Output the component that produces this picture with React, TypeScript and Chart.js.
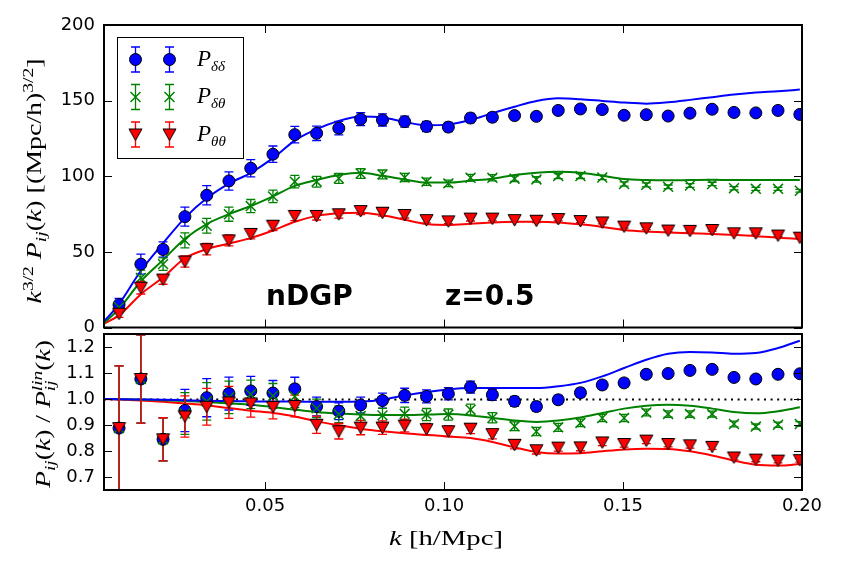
import { useEffect, useRef } from 'react';
import { Chart, registerables } from 'chart.js';

Chart.register(...registerables);

// Wavenumber bin centres [h/Mpc]
const kBins = [
  0.0092, 0.0153, 0.0215, 0.0276, 0.0337, 0.0399, 0.046, 0.0522, 0.0583, 0.0644, 0.0706,
  0.0767, 0.0828, 0.089, 0.0951, 0.1012, 0.1074, 0.1135, 0.1197, 0.1258, 0.1319, 0.1381,
  0.1442, 0.1503, 0.1565, 0.1626, 0.1687, 0.1749, 0.181, 0.1871, 0.1933, 0.1994,
];
// Theory curves also start at the left edge of the range
const kTheory = [0.005, ...kBins];

// k^{3/2} P(k) measurements
const pddData = [15.1, 41.9, 51.6, 73.3, 87.4, 96.9, 105.3, 114.6, 127.5, 128.4, 131.8, 137.7, 137.2, 136.1, 132.9, 132.5, 138.5, 139.0, 140.1, 139.6, 143.5, 144.5, 144.1, 140.3, 140.7, 139.8, 141.7, 144.3, 142.2, 141.9, 143.5, 140.9];
const pdtData = [13.4, 32.8, 41.9, 57.6, 67.3, 74.9, 80.3, 86.7, 96.4, 96.4, 98.6, 101.8, 101.2, 99.2, 96.4, 95.3, 99.0, 99.0, 98.4, 97.9, 100.1, 100.1, 99.2, 94.9, 94.3, 93.0, 93.9, 94.9, 92.1, 91.7, 91.7, 90.4];
const pttData = [9.1, 26.3, 31.7, 43.6, 51.8, 57.6, 61.9, 67.3, 73.8, 73.8, 74.9, 77.0, 75.9, 74.4, 71.0, 70.2, 72.0, 72.0, 71.0, 70.6, 71.7, 70.4, 69.5, 66.7, 65.6, 64.1, 63.9, 64.5, 62.3, 62.3, 60.8, 59.4];

// k^{3/2} P(k) model predictions (on kTheory)
const pddModel = [4, 15.5, 37.5, 55.7, 72.5, 85.4, 95.1, 102.3, 112, 123.6, 131.1, 136.6, 139.5, 138.8, 135.9, 133.7, 134.3, 137.2, 141.7, 146, 149.8, 151.5, 150.9, 149.8, 148.7, 148, 148.9, 150.5, 152.3, 154, 155.3, 156.2, 157.3];
const pdtModel = [3, 12.3, 30.6, 44.7, 58.7, 68.4, 74.9, 80.3, 86.7, 93.6, 97.5, 100.8, 102.3, 100.3, 97.9, 95.8, 95.8, 97.1, 98.4, 100.8, 102.3, 102.9, 102.3, 100.3, 98.2, 97.5, 97.3, 97.5, 97.7, 97.5, 97.5, 97.5, 97.5];
const pttModel = [2.6, 8, 22, 33.2, 45.8, 51.8, 55.5, 59.1, 64.1, 69.9, 73.8, 75.5, 75.9, 74.2, 71.2, 68.4, 67.8, 68.6, 69.5, 69.9, 69.9, 69.5, 68.2, 66.5, 64.5, 63.4, 62.8, 62.3, 61.9, 61.3, 60.4, 59.4, 58.7];

// P(k) / P_lin(k) measurements
const pddRatio = [0.888, 1.077, 0.845, 0.956, 1.005, 1.021, 1.031, 1.023, 1.039, 0.971, 0.953, 0.977, 0.994, 1.014, 1.010, 1.020, 1.046, 1.016, 0.991, 0.971, 0.997, 1.024, 1.054, 1.062, 1.095, 1.098, 1.110, 1.114, 1.083, 1.077, 1.095, 1.097];
const pdtRatio = [0.888, 1.077, 0.845, 0.944, 0.991, 1.006, 1.018, 1.012, 1.010, 0.964, 0.941, 0.935, 0.937, 0.943, 0.940, 0.940, 0.959, 0.928, 0.895, 0.875, 0.891, 0.908, 0.927, 0.927, 0.948, 0.942, 0.942, 0.942, 0.904, 0.894, 0.901, 0.904];
const pttRatio = [0.888, 1.077, 0.845, 0.933, 0.970, 0.987, 0.983, 0.969, 0.973, 0.901, 0.876, 0.890, 0.890, 0.898, 0.884, 0.876, 0.886, 0.865, 0.824, 0.803, 0.813, 0.814, 0.833, 0.827, 0.840, 0.827, 0.822, 0.816, 0.775, 0.767, 0.763, 0.765];

// P(k) / P_lin(k) model predictions (on kTheory)
const pddRatioModel = [1.0, 0.999, 0.998, 0.997, 0.995, 0.993, 0.992, 0.991, 0.99, 0.99, 0.989, 0.989, 0.99, 0.997, 1.014, 1.027, 1.037, 1.042, 1.042, 1.042, 1.042, 1.049, 1.062, 1.087, 1.119, 1.151, 1.174, 1.181, 1.179, 1.174, 1.177, 1.196, 1.224];
const pdtRatioModel = [1.0, 0.999, 0.998, 0.995, 0.992, 0.988, 0.983, 0.978, 0.969, 0.959, 0.95, 0.944, 0.94, 0.938, 0.938, 0.94, 0.942, 0.937, 0.927, 0.917, 0.912, 0.917, 0.929, 0.946, 0.963, 0.974, 0.978, 0.974, 0.963, 0.95, 0.945, 0.953, 0.968];
const pttRatioModel = [1.0, 0.998, 0.994, 0.989, 0.983, 0.976, 0.965, 0.955, 0.946, 0.933, 0.914, 0.899, 0.886, 0.876, 0.868, 0.862, 0.856, 0.85, 0.835, 0.814, 0.796, 0.79, 0.791, 0.799, 0.806, 0.809, 0.808, 0.799, 0.783, 0.763, 0.747, 0.744, 0.75];

// fractional 1-sigma errors per bin
const relErr = [0.27, 0.158, 0.098, 0.085, 0.073, 0.062, 0.054, 0.047, 0.043, 0.037, 0.034, 0.031, 0.029, 0.027, 0.025, 0.023, 0.022, 0.021, 0.019, 0.018, 0.017, 0.016, 0.015, 0.015, 0.014, 0.013, 0.013, 0.012, 0.012, 0.011, 0.011, 0.01];

const xTicks = [0.05, 0.1, 0.15, 0.2];
const yTopTicks = [0, 50, 100, 150, 200];
const yBotTicks = [0.7, 0.8, 0.9, 1.0, 1.1, 1.2];
const unity = 1.0;

const BLUE = '#0000ff';
const GREEN = '#008000';
const RED = '#ff0000';

const X_MIN = 0.005;
const X_MAX = 0.2;
const BOT_OFFSET = 320;
const SERIF = '"Liberation Serif", "Times New Roman", serif';
const SANS = '"DejaVu Sans", sans-serif';

type Seg = { t: string; it?: boolean; sz?: number; dy?: number; stack?: boolean };

function segFont(s: Seg, base: number) {
  return `${s.it ? 'italic ' : ''}${s.sz ?? base}px ${SERIF}`;
}

function layoutRich(ctx: CanvasRenderingContext2D, segs: Seg[], base: number) {
  const items: { s: Seg; x: number }[] = [];
  let x = 0;
  let stackW = -1;
  for (const s of segs) {
    ctx.font = segFont(s, base);
    const w = ctx.measureText(s.t).width;
    items.push({ s, x });
    if (s.stack) {
      stackW = w;
      continue;
    }
    x += stackW >= 0 ? Math.max(stackW, w) : w;
    stackW = -1;
  }
  return { items, width: x };
}

function drawRich(
  ctx: CanvasRenderingContext2D,
  segs: Seg[],
  base: number,
  px: number,
  py: number,
  opts: { rotate?: boolean; target?: number; align?: 'left' | 'center' } = {}
) {
  ctx.save();
  ctx.translate(px, py);
  if (opts.rotate) ctx.rotate(-Math.PI / 2);
  const { items, width } = layoutRich(ctx, segs, base);
  const sx = opts.target ? opts.target / width : 1;
  ctx.scale(sx, 1);
  const x0 = opts.align === 'left' ? 0 : -width / 2;
  ctx.fillStyle = '#000';
  ctx.textAlign = 'left';
  ctx.textBaseline = 'alphabetic';
  for (const it of items) {
    ctx.font = segFont(it.s, base);
    ctx.fillText(it.s.t, x0 + it.x, it.s.dy ?? 0);
  }
  ctx.restore();
}

let triCache: HTMLCanvasElement | null = null;
function triangleMarker() {
  if (triCache) return triCache;
  const c = document.createElement('canvas');
  c.width = 15;
  c.height = 14;
  const g = c.getContext('2d')!;
  g.beginPath();
  g.moveTo(1, 1.5);
  g.lineTo(14, 1.5);
  g.lineTo(7.5, 13);
  g.closePath();
  g.fillStyle = RED;
  g.fill();
  g.strokeStyle = '#000';
  g.lineWidth = 1;
  g.stroke();
  triCache = c;
  return c;
}

const pts = (xs: number[], ys: number[]) => xs.map((x, i) => ({ x, y: ys[i] }));

function modelLine(ys: number[], color: string) {
  return {
    data: pts(kTheory, ys),
    showLine: true,
    borderColor: color,
    borderWidth: 2,
    pointRadius: 0,
    cubicInterpolationMode: 'monotone',
    order: 10,
    clip: 0,
  };
}

function markers(ys: number[], kind: 'dd' | 'dt' | 'tt') {
  const errs = ys.map((v, i) => v * relErr[i]);
  if (kind === 'dd') {
    return {
      data: pts(kBins, ys),
      pointStyle: 'circle',
      pointRadius: 6,
      backgroundColor: BLUE,
      borderColor: '#000',
      borderWidth: 1,
      showLine: false,
      order: 3,
      clip: 0,
      errs,
      errColor: BLUE,
    };
  }
  if (kind === 'dt') {
    return {
      data: pts(kBins, ys),
      pointStyle: 'crossRot',
      pointRadius: 7,
      backgroundColor: GREEN,
      borderColor: GREEN,
      borderWidth: 1.5,
      showLine: false,
      order: 2,
      clip: 0,
      errs,
      errColor: GREEN,
    };
  }
  return {
    data: pts(kBins, ys),
    pointStyle: triangleMarker(),
    pointRadius: 7,
    backgroundColor: RED,
    borderColor: '#000',
    borderWidth: 1,
    showLine: false,
    order: 1,
    clip: 0,
    errs,
    errColor: RED,
  };
}

function drawErrBars(chart: any) {
  const { ctx, chartArea: a } = chart;
  const xs = chart.scales.x;
  const ys = chart.scales.y;
  ctx.save();
  ctx.beginPath();
  ctx.rect(a.left, a.top, a.right - a.left, a.bottom - a.top);
  ctx.clip();
  ctx.lineWidth = 1.3;
  for (const ds of chart.data.datasets) {
    if (!ds.errs) continue;
    ctx.strokeStyle = ds.errColor;
    ds.data.forEach((p: any, i: number) => {
      const e = ds.errs[i];
      const x = xs.getPixelForValue(p.x);
      const y1 = ys.getPixelForValue(p.y - e);
      const y2 = ys.getPixelForValue(p.y + e);
      ctx.beginPath();
      ctx.moveTo(x, y1);
      ctx.lineTo(x, y2);
      ctx.moveTo(x - 4.5, y1);
      ctx.lineTo(x + 4.5, y1);
      ctx.moveTo(x - 4.5, y2);
      ctx.lineTo(x + 4.5, y2);
      ctx.stroke();
    });
  }
  ctx.restore();
}

function drawFrame(chart: any, yTicks: number[]) {
  const { ctx, chartArea: a } = chart;
  const xs = chart.scales.x;
  const ys = chart.scales.y;
  ctx.save();
  ctx.strokeStyle = '#000';
  ctx.lineWidth = 1;
  ctx.beginPath();
  for (const v of xTicks) {
    const x = Math.round(xs.getPixelForValue(v)) + 0.5;
    ctx.moveTo(x, a.top);
    ctx.lineTo(x, a.top + 8);
    ctx.moveTo(x, a.bottom);
    ctx.lineTo(x, a.bottom - 8);
  }
  for (const v of yTicks) {
    const y = Math.round(ys.getPixelForValue(v)) + 0.5;
    ctx.moveTo(a.left, y);
    ctx.lineTo(a.left + 8, y);
    ctx.moveTo(a.right, y);
    ctx.lineTo(a.right - 8, y);
  }
  ctx.stroke();
  ctx.lineWidth = 2;
  ctx.strokeRect(a.left, a.top, a.right - a.left, a.bottom - a.top);
  ctx.restore();
}

function drawLegend(ctx: CanvasRenderingContext2D) {
  ctx.save();
  ctx.fillStyle = '#fff';
  ctx.fillRect(117, 37, 126, 121);
  ctx.strokeStyle = '#000';
  ctx.lineWidth = 1;
  ctx.strokeRect(117.5, 37.5, 126, 121);
  const rows: { y: number; color: string; kind: string; sub: string }[] = [
    { y: 59.5, color: BLUE, kind: 'dd', sub: 'δδ' },
    { y: 97, color: GREEN, kind: 'dt', sub: 'δθ' },
    { y: 134.5, color: RED, kind: 'tt', sub: 'θθ' },
  ];
  for (const r of rows) {
    for (const mx of [135.5, 169.5]) {
      ctx.strokeStyle = r.color;
      ctx.lineWidth = 1.3;
      ctx.beginPath();
      ctx.moveTo(mx, r.y - 12.5);
      ctx.lineTo(mx, r.y + 12.5);
      ctx.moveTo(mx - 4.5, r.y - 12.5);
      ctx.lineTo(mx + 4.5, r.y - 12.5);
      ctx.moveTo(mx - 4.5, r.y + 12.5);
      ctx.lineTo(mx + 4.5, r.y + 12.5);
      ctx.stroke();
      if (r.kind === 'dd') {
        ctx.beginPath();
        ctx.arc(mx, r.y, 6, 0, Math.PI * 2);
        ctx.fillStyle = BLUE;
        ctx.fill();
        ctx.strokeStyle = '#000';
        ctx.lineWidth = 1;
        ctx.stroke();
      } else if (r.kind === 'dt') {
        ctx.strokeStyle = GREEN;
        ctx.lineWidth = 1.5;
        ctx.beginPath();
        ctx.moveTo(mx - 5, r.y - 5);
        ctx.lineTo(mx + 5, r.y + 5);
        ctx.moveTo(mx - 5, r.y + 5);
        ctx.lineTo(mx + 5, r.y - 5);
        ctx.stroke();
      } else {
        const img = triangleMarker();
        ctx.drawImage(img, mx - img.width / 2, r.y - img.height / 2);
      }
    }
    drawRich(
      ctx,
      [
        { t: 'P', it: true },
        { t: r.sub, it: true, sz: 15, dy: 5 },
      ],
      23,
      197,
      r.y + 6,
      { align: 'left' }
    );
  }
  ctx.restore();
}

const tickFont = { family: SANS, size: 18 };

function yScale(min: number, max: number, ticks: number[], fmt: (v: number) => string) {
  return {
    type: 'linear',
    min,
    max,
    afterBuildTicks: (s: any) => {
      s.ticks = ticks.map((v) => ({ value: v }));
    },
    afterFit: (s: any) => {
      s.width = 104;
      s.paddingTop = 0;
      s.paddingBottom = 0;
    },
    grid: { display: false, drawTicks: false },
    border: { display: false },
    ticks: { font: tickFont, color: '#000', padding: 9, callback: (v: any) => fmt(Number(v)) },
  };
}

function topConfig(): any {
  return {
    type: 'scatter',
    data: {
      datasets: [
        modelLine(pddModel, BLUE),
        modelLine(pdtModel, GREEN),
        modelLine(pttModel, RED),
        markers(pddData, 'dd'),
        markers(pdtData, 'dt'),
        markers(pttData, 'tt'),
      ],
    },
    options: {
      responsive: false,
      animation: false,
      events: [],
      layout: { padding: { left: 0, right: 39, top: 25, bottom: 2 } },
      plugins: { legend: { display: false }, tooltip: { enabled: false } },
      scales: {
        x: { type: 'linear', min: X_MIN, max: X_MAX, display: false },
        y: yScale(0, 200, yTopTicks, (v) => String(Math.round(v))),
      },
    },
    plugins: [
      {
        id: 'topPanel',
        beforeDatasetDraw(chart: any, args: any) {
          if (args.index === 3) drawErrBars(chart);
        },
        afterDraw(chart: any) {
          const ctx = chart.ctx as CanvasRenderingContext2D;
          drawFrame(chart, yTopTicks);
          drawLegend(ctx);
          ctx.save();
          ctx.fillStyle = '#000';
          ctx.font = `bold 28px ${SANS}`;
          ctx.textBaseline = 'alphabetic';
          ctx.textAlign = 'left';
          ctx.fillText('nDGP', 266, 305);
          ctx.fillText('z=0.5', 445, 305);
          ctx.restore();
          drawRich(
            ctx,
            [
              { t: 'k', it: true },
              { t: '3/2', sz: 14, dy: -8 },
              { t: ' ' },
              { t: 'P', it: true },
              { t: 'ij', it: true, sz: 14, dy: 5 },
              { t: '(' },
              { t: 'k', it: true },
              { t: ')' },
              { t: ' ' },
              { t: '[(Mpc/h)' },
              { t: '3/2', sz: 14, dy: -8 },
              { t: ']' },
            ],
            20,
            41,
            181,
            { rotate: true, target: 245 }
          );
        },
      },
    ],
  };
}

function botConfig(): any {
  return {
    type: 'scatter',
    data: {
      datasets: [
        modelLine(pddRatioModel, BLUE),
        modelLine(pdtRatioModel, GREEN),
        modelLine(pttRatioModel, RED),
        markers(pddRatio, 'dd'),
        markers(pdtRatio, 'dt'),
        markers(pttRatio, 'tt'),
      ],
    },
    options: {
      responsive: false,
      animation: false,
      events: [],
      layout: { padding: { left: 0, right: 39, top: 14, bottom: 39 } },
      plugins: { legend: { display: false }, tooltip: { enabled: false } },
      scales: {
        x: {
          type: 'linear',
          min: X_MIN,
          max: X_MAX,
          afterBuildTicks: (s: any) => {
            s.ticks = xTicks.map((v) => ({ value: v }));
          },
          afterFit: (s: any) => {
            s.height = 40;
            s.paddingLeft = 0;
            s.paddingRight = 0;
          },
          grid: { display: false, drawTicks: false },
          border: { display: false },
          ticks: { font: tickFont, color: '#000', padding: 6, maxRotation: 0, callback: (v: any) => Number(v).toFixed(2) },
        },
        y: yScale(0.65, 1.25, yBotTicks, (v) => v.toFixed(1)),
      },
    },
    plugins: [
      {
        id: 'bottomPanel',
        beforeDatasetsDraw(chart: any) {
          const { ctx, chartArea: a } = chart;
          const y = Math.round(chart.scales.y.getPixelForValue(unity)) + 0.5;
          ctx.save();
          ctx.strokeStyle = '#000';
          ctx.lineWidth = 2;
          ctx.setLineDash([2, 4.6]);
          ctx.beginPath();
          ctx.moveTo(a.left, y);
          ctx.lineTo(a.right, y);
          ctx.stroke();
          ctx.restore();
        },
        beforeDatasetDraw(chart: any, args: any) {
          if (args.index === 3) drawErrBars(chart);
        },
        afterDraw(chart: any) {
          const ctx = chart.ctx as CanvasRenderingContext2D;
          drawFrame(chart, yBotTicks);
          drawRich(
            ctx,
            [
              { t: 'P', it: true },
              { t: 'ij', it: true, sz: 14, dy: 5 },
              { t: '(' },
              { t: 'k', it: true },
              { t: ')' },
              { t: ' / ' },
              { t: 'P', it: true },
              { t: 'lin', it: true, sz: 14, dy: -8, stack: true },
              { t: 'ij', it: true, sz: 14, dy: 5 },
              { t: '(' },
              { t: 'k', it: true },
              { t: ')' },
            ],
            20,
            50,
            414 - BOT_OFFSET,
            { rotate: true, target: 148 }
          );
          drawRich(
            ctx,
            [{ t: 'k', it: true }, { t: ' ' }, { t: '[h/Mpc]' }],
            20,
            446,
            545 - BOT_OFFSET,
            { target: 114 }
          );
        },
      },
    ],
  };
}

export default function App() {
  const topRef = useRef<HTMLCanvasElement>(null);
  const botRef = useRef<HTMLCanvasElement>(null);

  useEffect(() => {
    const top = new Chart(topRef.current!, topConfig());
    const bot = new Chart(botRef.current!, botConfig());
    return () => {
      top.destroy();
      bot.destroy();
    };
  }, []);

  return (
    <div style={{ position: 'fixed', left: 0, top: 0, width: 841, height: 569, background: '#fff' }}>
      <canvas ref={topRef} width={841} height={336} style={{ position: 'absolute', left: 0, top: 0 }} />
      <canvas ref={botRef} width={841} height={249} style={{ position: 'absolute', left: 0, top: BOT_OFFSET }} />
    </div>
  );
}
